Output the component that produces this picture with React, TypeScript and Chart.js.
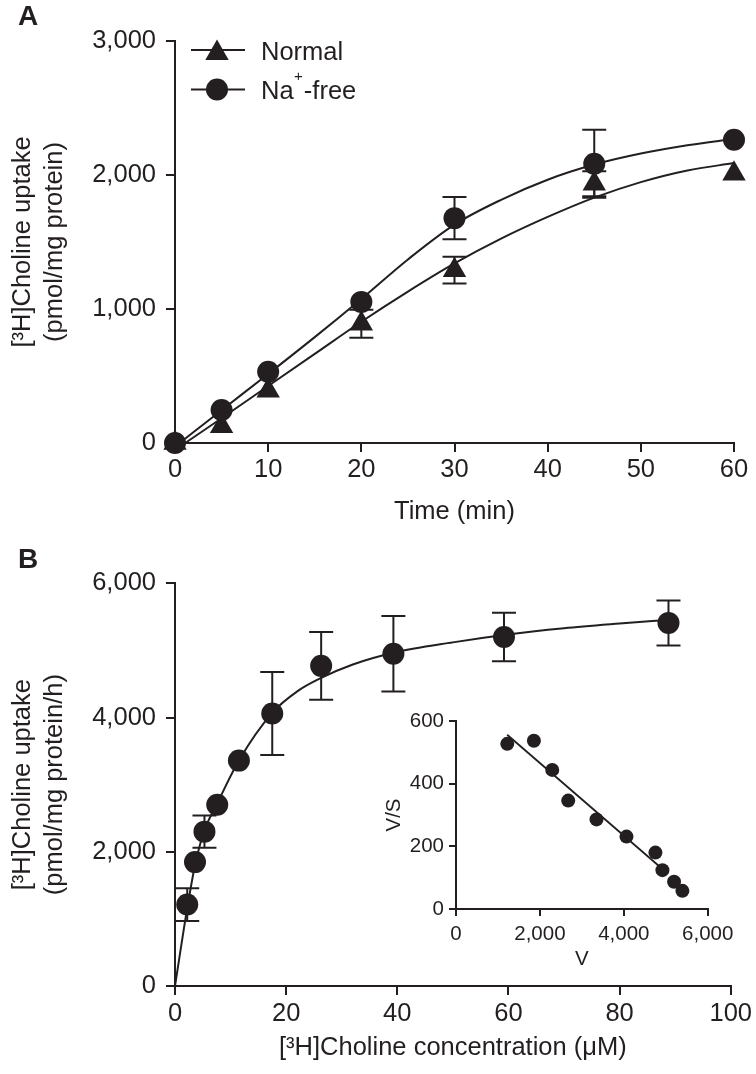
import React, { useEffect, useRef } from 'react';
import { Chart, registerables } from 'chart.js';

Chart.register(...registerables);

const INK = '#231f20';
const FONT = '"Liberation Sans", Arial, Helvetica, sans-serif';
const MAIN_FS = 25.5;
const INSET_FS = 20.5;

// ---------------- Panel A: time course ----------------
const A_TIME = [0, 5, 10, 20, 30, 45, 60];
const A_NORMAL = [0, 125, 390, 890, 1290, 1935, 2010];
const A_NORMAL_ERR = [0, 0, 0, 105, 100, 93, 0];
const A_NAFREE = [0, 246, 531, 1053, 1678, 2084, 2263];
const A_NAFREE_ERR = [0, 0, 0, 0, 158, 253, 0];
const A_FIT_NORMAL_X = [1.1, 5, 10, 15, 20, 25, 30, 35, 40, 45, 50, 55, 60];
const A_FIT_NORMAL_Y = [0, 185, 425, 665, 905, 1130, 1340, 1525, 1687, 1831, 1947, 2034, 2089];
const A_FIT_NAFREE_X = [0.5, 5, 10, 15, 20, 25, 30, 35, 40, 45, 50, 55, 60];
const A_FIT_NAFREE_Y = [0, 245, 515, 790, 1075, 1370, 1630, 1815, 1965, 2078, 2160, 2222, 2270];
const A_X_TICKS = [0, 10, 20, 30, 40, 50, 60];
const A_X_LABELS = ['0', '10', '20', '30', '40', '50', '60'];
const A_Y_TICKS = [0, 1000, 2000, 3000];
const A_Y_LABELS = ['0', '1,000', '2,000', '3,000'];
const A_SERIES = ['Normal', 'Na⁺-free'];

// ---------------- Panel B: concentration dependence ----------------
const B_CONC = [2.2, 3.6, 5.3, 7.6, 11.5, 17.5, 26.3, 39.3, 59.2, 88.8];
const B_UPTAKE = [1214, 1846, 2300, 2701, 3358, 4060, 4770, 4950, 5201, 5410];
const B_ERR = [244, 0, 240, 0, 0, 620, 505, 562, 361, 335];
const B_FIT_X = [0, 2.2, 3.6, 5.3, 7.6, 11.5, 17.5, 22, 26.3, 32, 39.3, 50, 59.2, 70, 80, 88.8];
const B_FIT_Y = [0, 1160, 1800, 2320, 2720, 3360, 4070, 4390, 4590, 4790, 4965, 5120, 5230, 5330, 5400, 5455];
const B_X_TICKS = [0, 20, 40, 60, 80, 100];
const B_X_LABELS = ['0', '20', '40', '60', '80', '100'];
const B_Y_TICKS = [0, 2000, 4000, 6000];
const B_Y_LABELS = ['0', '2,000', '4,000', '6,000'];

// ---------------- Inset: Eadie-Hofstee ----------------
const INSET_V = [1222, 1857, 2294, 2675, 3349, 4064, 4754, 4921, 5198, 5397];
const INSET_VS = [527, 537, 444, 346, 286, 231, 180, 124, 87, 58];
const INSET_FIT_V = [1220, 4900];
const INSET_FIT_VS = [556, 130];
const INSET_X_TICKS = [0, 2000, 4000, 6000];
const INSET_X_LABELS = ['0', '2,000', '4,000', '6,000'];
const INSET_Y_TICKS = [0, 200, 400, 600];
const INSET_Y_LABELS = ['0', '200', '400', '600'];

const pts = (xs: number[], ys: number[]) => xs.map((x, i) => ({ x, y: ys[i] }));

function scale(o: {
  min: number; max: number; ticks: number[]; labels: string[]; fs: number; pad: number; tl: number;
  fit: number; isY: boolean; title: string | string[]; titlePad: any; titleLH: number;
}) {
  return {
    type: 'linear',
    min: o.min,
    max: o.max,
    afterBuildTicks: (s: any) => { s.ticks = o.ticks.map((v) => ({ value: v })); },
    afterFit: (s: any) => { if (o.isY) s.width = o.fit; else s.height = o.fit; },
    ticks: {
      color: INK,
      font: { family: FONT, size: o.fs, lineHeight: 1.2 },
      padding: o.pad,
      autoSkip: false,
      maxRotation: 0,
      minRotation: 0,
      callback: (v: any) => { const i = o.ticks.indexOf(Number(v)); return i >= 0 ? o.labels[i] : ''; },
    },
    grid: { display: true, drawOnChartArea: false, drawTicks: true, tickLength: o.tl, color: INK, lineWidth: 2 },
    border: { display: true, color: INK, width: 2 },
    title: {
      display: true,
      text: o.title,
      color: INK,
      font: { family: FONT, size: o.fs, lineHeight: o.titleLH },
      padding: o.titlePad,
    },
  };
}

function drawErrors(chart: any, xs: number[], ys: number[], errs: number[], half: number) {
  const { ctx } = chart;
  const sx = chart.scales.x;
  const sy = chart.scales.y;
  ctx.save();
  ctx.strokeStyle = INK;
  ctx.lineWidth = 2;
  xs.forEach((xv, i) => {
    const e = errs[i];
    if (!e) return;
    const px = sx.getPixelForValue(xv);
    const t = sy.getPixelForValue(ys[i] + e);
    const b = sy.getPixelForValue(ys[i] - e);
    ctx.beginPath();
    ctx.moveTo(px, t); ctx.lineTo(px, b);
    ctx.moveTo(px - half, t); ctx.lineTo(px + half, t);
    ctx.moveTo(px - half, b); ctx.lineTo(px + half, b);
    ctx.stroke();
  });
  ctx.restore();
}

const markerCircle = (data: any, r: number) => ({
  data, showLine: false, pointStyle: 'circle', pointRadius: r, pointHoverRadius: r,
  pointBackgroundColor: INK, pointBorderColor: INK, pointBorderWidth: 0, clip: false,
});
const fitLine = (data: any, w: number) => ({
  data, borderColor: INK, borderWidth: w, pointRadius: 0, pointHoverRadius: 0,
  cubicInterpolationMode: 'monotone', fill: false, clip: false,
});

const baseOptions = (padding: any, scales: any) => ({
  responsive: false,
  animation: false,
  events: [],
  layout: { autoPadding: false, padding },
  plugins: { legend: { display: false }, tooltip: { enabled: false }, title: { display: false } },
  scales,
});

const decorA = {
  id: 'decorA',
  beforeDatasetsDraw(chart: any) {
    drawErrors(chart, A_TIME, A_NORMAL, A_NORMAL_ERR, 12);
    drawErrors(chart, A_TIME, A_NAFREE, A_NAFREE_ERR, 12);
  },
  afterDraw(chart: any) {
    const ctx = chart.ctx;
    ctx.save();
    ctx.fillStyle = INK;
    ctx.strokeStyle = INK;
    ctx.textAlign = 'left';
    ctx.textBaseline = 'alphabetic';
    ctx.font = `bold 28px ${FONT}`;
    ctx.fillText('A', 18, 25);
    // legend
    ctx.lineWidth = 2;
    ctx.beginPath();
    ctx.moveTo(191, 50); ctx.lineTo(245, 50);
    ctx.moveTo(191, 89.5); ctx.lineTo(245, 89.5);
    ctx.stroke();
    ctx.beginPath();
    ctx.moveTo(217, 39.5); ctx.lineTo(228.7, 60); ctx.lineTo(205.3, 60); ctx.closePath();
    ctx.fill();
    ctx.beginPath();
    ctx.arc(217, 89.5, 11, 0, Math.PI * 2);
    ctx.fill();
    ctx.font = `${MAIN_FS}px ${FONT}`;
    ctx.fillText(A_SERIES[0], 261, 60);
    const na = 'Na';
    ctx.fillText(na, 261, 99.3);
    let x = 261 + ctx.measureText(na).width;
    ctx.font = `15px ${FONT}`;
    ctx.fillText('+', x + 0.5, 81.3);
    x += ctx.measureText('+').width + 1.5;
    ctx.font = `${MAIN_FS}px ${FONT}`;
    ctx.fillText('-free', x, 99.3);
    ctx.restore();
  },
};

const decorB = {
  id: 'decorB',
  beforeDatasetsDraw(chart: any) {
    drawErrors(chart, B_CONC, B_UPTAKE, B_ERR, 12);
  },
  afterDraw(chart: any) {
    const ctx = chart.ctx;
    ctx.save();
    ctx.fillStyle = INK;
    ctx.textAlign = 'left';
    ctx.textBaseline = 'alphabetic';
    ctx.font = `bold 28px ${FONT}`;
    ctx.fillText('B', 18, 28.3);
    ctx.restore();
  },
};

function configA(): any {
  return {
    type: 'line',
    data: {
      datasets: [
        markerCircle(pts(A_TIME, A_NAFREE), 11),
        {
          data: pts(A_TIME, A_NORMAL), showLine: false, pointStyle: 'triangle', pointRadius: 13.5,
          pointHoverRadius: 13.5, pointBackgroundColor: INK, pointBorderColor: INK, pointBorderWidth: 0, clip: false,
        },
        fitLine(pts(A_FIT_NAFREE_X, A_FIT_NAFREE_Y), 2),
        fitLine(pts(A_FIT_NORMAL_X, A_FIT_NORMAL_Y), 2),
      ],
    },
    options: baseOptions({ top: 41, right: 22, bottom: 0, left: 0 }, {
      x: scale({ min: 0, max: 60, ticks: A_X_TICKS, labels: A_X_LABELS, fs: MAIN_FS, pad: 3, tl: 9, fit: 97, isY: false,
        title: 'Time (min)', titlePad: { top: 0, bottom: 13 }, titleLH: 1.2 }),
      y: scale({ min: 0, max: 3000, ticks: A_Y_TICKS, labels: A_Y_LABELS, fs: MAIN_FS, pad: 10, tl: 9, fit: 175, isY: true,
        title: ['[³H]Choline uptake', '(pmol/mg protein)'], titlePad: { top: 7, bottom: 0 }, titleLH: 32 / MAIN_FS }),
    }),
    plugins: [decorA],
  };
}

function configB(): any {
  return {
    type: 'line',
    data: {
      datasets: [
        markerCircle(pts(B_CONC, B_UPTAKE), 11),
        fitLine(pts(B_FIT_X, B_FIT_Y), 2),
      ],
    },
    options: baseOptions({ top: 43.3, right: 22.7, bottom: 0, left: 0 }, {
      x: scale({ min: 0, max: 100, ticks: B_X_TICKS, labels: B_X_LABELS, fs: MAIN_FS, pad: 4, tl: 9, fit: 88, isY: false,
        title: '[³H]Choline concentration (μM)', titlePad: { top: 0, bottom: 10.7 }, titleLH: 1.2 }),
      y: scale({ min: 0, max: 6000, ticks: B_Y_TICKS, labels: B_Y_LABELS, fs: MAIN_FS, pad: 10, tl: 9, fit: 175, isY: true,
        title: ['[³H]Choline uptake', '(pmol/mg protein/h)'], titlePad: { top: 7, bottom: 0 }, titleLH: 32 / MAIN_FS }),
    }),
    plugins: [decorB],
  };
}

function configInset(): any {
  return {
    type: 'line',
    data: {
      datasets: [
        markerCircle(pts(INSET_V, INSET_VS), 7),
        fitLine(pts(INSET_FIT_V, INSET_FIT_VS), 1.8),
      ],
    },
    options: baseOptions({ top: 21, right: 42.3, bottom: 0, left: 0 }, {
      x: scale({ min: 0, max: 6000, ticks: INSET_X_TICKS, labels: INSET_X_LABELS, fs: INSET_FS, pad: 6, tl: 7, fit: 66, isY: false,
        title: 'V', titlePad: { top: 0, bottom: 3.7 }, titleLH: 1.2 }),
      y: scale({ min: 0, max: 600, ticks: INSET_Y_TICKS, labels: INSET_Y_LABELS, fs: INSET_FS, pad: 5, tl: 7, fit: 96, isY: true,
        title: 'V/S', titlePad: { top: 21.7, bottom: 0 }, titleLH: 1.2 }),
    }),
  };
}

function ChartCanvas(props: { left: number; top: number; width: number; height: number; build: () => any }) {
  const ref = useRef<HTMLCanvasElement>(null);
  useEffect(() => {
    const chart = new Chart(ref.current as HTMLCanvasElement, props.build());
    return () => chart.destroy();
  }, []);
  return (
    <canvas
      ref={ref}
      width={props.width}
      height={props.height}
      style={{ position: 'absolute', left: props.left, top: props.top, width: props.width, height: props.height }}
    />
  );
}

export default function App() {
  return (
    <div style={{ position: 'absolute', left: 0, top: 0, width: 756, height: 1074, background: '#fff', overflow: 'hidden' }}>
      <ChartCanvas left={0} top={0} width={756} height={540} build={configA} />
      <ChartCanvas left={0} top={540} width={756} height={534} build={configB} />
      <ChartCanvas left={360} top={700} width={390} height={275} build={configInset} />
    </div>
  );
}
